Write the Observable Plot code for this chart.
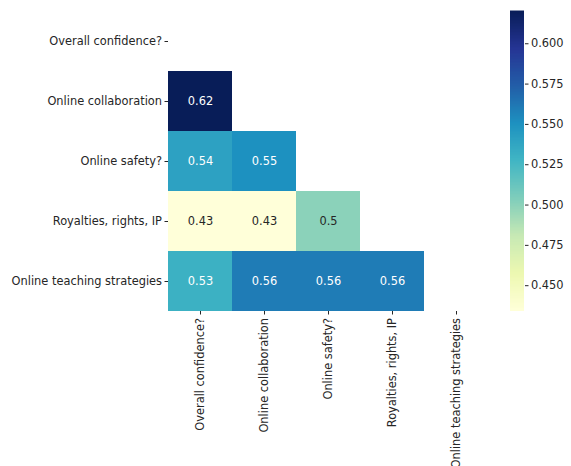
<!DOCTYPE html>
<html>
<head>
<meta charset="utf-8">
<script src="https://cdn.jsdelivr.net/npm/d3@7"></script>
<script src="https://cdn.jsdelivr.net/npm/@observablehq/plot@0.6"></script>
<style>
  html, body { margin: 0; padding: 0; background: white; }
  #wrap { position: relative; width: 571px; height: 466px; }
  #wrap svg { position: absolute; left: 0; top: 0; }
</style>
</head>
<body>
<div id="wrap"></div>
<script>
const labels = ["Overall confidence?", "Online collaboration", "Online safety?", "Royalties, rights, IP", "Online teaching strategies"];
// lower triangle cells: row label, column label, value
const rows   = ["Online collaboration", "Online safety?", "Online safety?", "Royalties, rights, IP", "Royalties, rights, IP", "Royalties, rights, IP", "Online teaching strategies", "Online teaching strategies", "Online teaching strategies", "Online teaching strategies"];
const cols   = ["Overall confidence?", "Overall confidence?", "Online collaboration", "Overall confidence?", "Online collaboration", "Online safety?", "Overall confidence?", "Online collaboration", "Online safety?", "Royalties, rights, IP"];
const values = [0.62, 0.54, 0.55, 0.434, 0.434, 0.50, 0.53, 0.56, 0.56, 0.56];
const colorDomain = [0.434, 0.620];
const colorTicks = [0.450, 0.475, 0.500, 0.525, 0.550, 0.575, 0.600];
const ylgnbu = ["#ffffd9", "#edf8b1", "#c7e9b4", "#7fcdbb", "#41b6c4", "#1d91c0", "#225ea8", "#253494", "#081d58"];

const cells = values.map((v, i) => ({row: rows[i], col: cols[i], value: v}));
const interp = d3.piecewise(d3.interpolateRgb, ylgnbu);
const colorOpts = {type: "linear", domain: colorDomain, interpolate: interp, clamp: true};
const FS = 11.4;
const font = {fontFamily: "DejaVu Sans, sans-serif", fontSize: FS + "px", color: "#262626", background: "transparent", overflow: "visible"};

const main = Plot.plot({
  width: 571, height: 466,
  marginLeft: 168, marginRight: 83, marginTop: 11, marginBottom: 155,
  style: font,
  x: {domain: labels, padding: 0, label: null, tickRotate: -90, tickSize: 3.5, tickPadding: 3},
  y: {domain: labels, padding: 0, label: null, tickSize: 3.5, tickPadding: 3},
  color: colorOpts,
  marks: [
    Plot.cell(cells, {x: "col", y: "row", fill: "value", inset: 0}),
    Plot.text(cells, {x: "col", y: "row", text: d => String(+d.value.toFixed(2)),
      fill: d => d.value < 0.52 ? "#262626" : "white", fontSize: FS})
  ]
});

const N = 200;
const steps = d3.range(N).map(i => ({
  y1: colorDomain[0] + (colorDomain[1] - colorDomain[0]) * i / N,
  y2: colorDomain[0] + (colorDomain[1] - colorDomain[0]) * (i + 1) / N
}));
const bar = Plot.plot({
  width: 571, height: 466,
  marginLeft: 510, marginRight: 47, marginTop: 11, marginBottom: 155,
  style: font,
  x: {domain: [0, 1], axis: null},
  y: {domain: colorDomain, axis: "right", ticks: colorTicks, tickFormat: d3.format(".3f"), label: null, tickSize: 3.5, tickPadding: 3},
  color: colorOpts,
  marks: [
    Plot.rectY(steps, {x1: 0, x2: 1, y1: "y1", y2: d => d.y2 + 0.0003, fill: d => (d.y1 + d.y2) / 2})
  ]
});

document.getElementById("wrap").append(main, bar);
</script>
</body>
</html>
